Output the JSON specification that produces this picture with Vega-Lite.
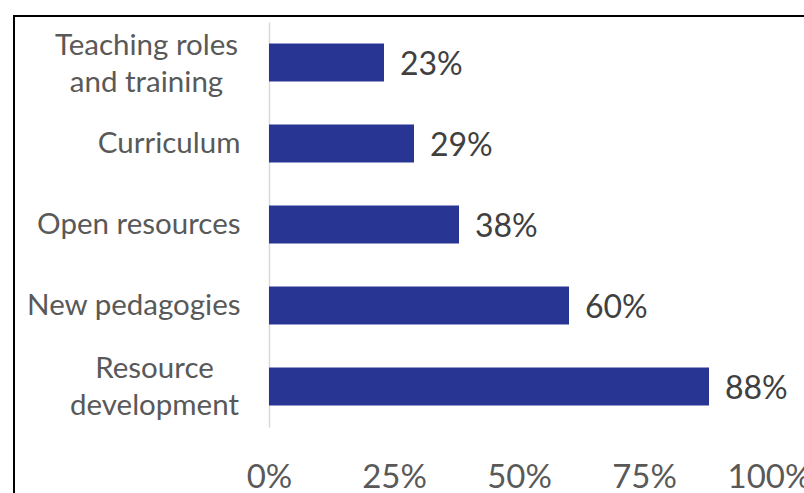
{
  "$schema": "https://vega.github.io/schema/vega-lite/v6.json",
  "autosize": "none",
  "padding": {"left": 14, "top": 16, "right": 0, "bottom": 0},
  "width": 800,
  "height": 490,
  "background": "white",
  "config": {
    "view": {"stroke": "black", "strokeWidth": 2},
    "font": "Lato"
  },
  "data": {
    "values": [
      {"category": "Teaching roles and training", "share": 0.23},
      {"category": "Curriculum", "share": 0.29},
      {"category": "Open resources", "share": 0.38},
      {"category": "New pedagogies", "share": 0.60},
      {"category": "Resource development", "share": 0.88}
    ]
  },
  "encoding": {
    "y": {
      "field": "category",
      "type": "nominal",
      "sort": null,
      "scale": {"range": [6, 411], "paddingInner": 0.53, "paddingOuter": 0.265},
      "axis": {
        "title": null,
        "orient": "left",
        "offset": -255,
        "domainColor": "#d9d9d9",
        "domainWidth": 1.5,
        "ticks": false,
        "labelPadding": {"condition": [
          {"test": "datum.value == 'Teaching roles and training'", "value": 123},
          {"test": "datum.value == 'Resource development'", "value": 115}
        ], "value": 29},
        "labelAlign": {"condition": {"test": "datum.value == 'Teaching roles and training' || datum.value == 'Resource development'", "value": "center"}, "value": "right"},
        "labelFont": "Lato",
        "labelFontSize": 29.5,
        "labelColor": "#595959",
        "labelLineHeight": 37,
        "labelLimit": 400,
        "labelOffset": {"condition": [
          {"test": "datum.value == 'Teaching roles and training'", "value": -16.5},
          {"test": "datum.value == 'Resource development'", "value": -18}
        ], "value": 0},
        "labelExpr": "datum.value == 'Teaching roles and training' ? ['Teaching roles', 'and training'] : datum.value == 'Resource development' ? ['Resource', 'development'] : datum.value"
      }
    },
    "x": {
      "field": "share",
      "type": "quantitative",
      "scale": {"domain": [-0.51, 1.09], "nice": false, "zero": false},
      "axis": {
        "title": null,
        "values": [0, 0.25, 0.5, 0.75, 1],
        "format": ".0%",
        "grid": false,
        "domain": false,
        "ticks": false,
        "offset": -45,
        "labelPadding": 0,
        "labelFont": "Lato",
        "labelFontSize": 33,
        "labelColor": "#595959",
        "labelFlush": false
      }
    }
  },
  "layer": [
    {
      "mark": {"type": "bar", "color": "#283593"},
      "encoding": {"x2": {"datum": 0}}
    },
    {
      "mark": {"type": "text", "align": "left", "baseline": "middle", "dx": 16, "dy": 2, "font": "Lato", "fontSize": 32, "color": "#404040"},
      "encoding": {"text": {"field": "share", "type": "quantitative", "format": ".0%"}}
    }
  ]
}
